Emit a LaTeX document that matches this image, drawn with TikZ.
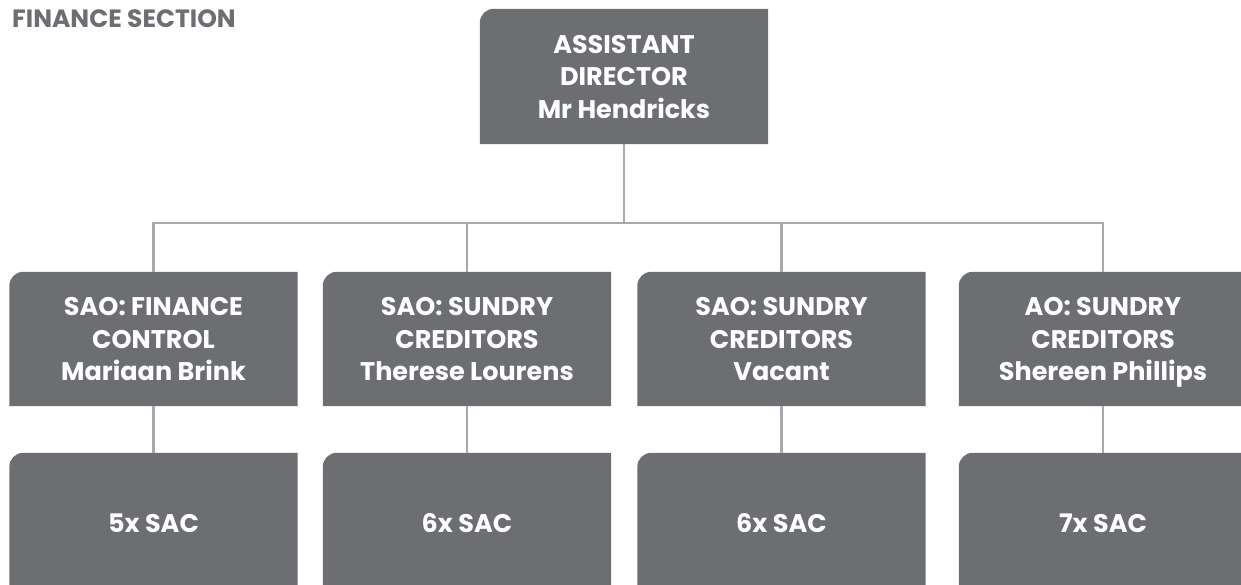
\documentclass[tikz,border=0pt]{standalone}
\usepackage{fontspec}
\setmainfont{Poppins}
\usetikzlibrary{backgrounds}
\definecolor{boxgray}{HTML}{6D6E71}
\definecolor{linegray}{HTML}{A7A9AC}
\tikzset{
  orgbox/.style={minimum width=288pt, minimum height=134pt, inner sep=0pt,
    text depth=0pt, text=white, align=center,
    font=\bfseries\fontsize{25.5}{32.5}\selectfont},
  staffbox/.style={orgbox, text height=24pt},
  conn/.style={draw=linegray, line width=2.6pt},
}
\begin{document}
\begin{tikzpicture}[x=1pt, y=1pt]
\useasboundingbox (0,0) rectangle (1241,-585);
% heading
\node[anchor=base west, inner sep=0pt, text=boxgray,
  font=\bfseries\fontsize{25}{28}\selectfont] (title) at (12,-28) {FINANCE SECTION};
% top position
\node[orgbox, minimum height=135pt] (ad) at (624,-76.5) {ASSISTANT\\DIRECTOR\\Mr Hendricks};
% second row
\node[orgbox] (fc) at (153.5,-339) {SAO: FINANCE\\CONTROL\\Mariaan Brink};
\node[orgbox] (sc1) at (467,-339) {SAO: SUNDRY\\CREDITORS\\Therese Lourens};
\node[orgbox] (sc2) at (781.5,-339) {SAO: SUNDRY\\CREDITORS\\Vacant};
\node[orgbox] (sc3) at (1103,-339) {AO: SUNDRY\\CREDITORS\\Shereen Phillips};
% third row
\node[staffbox] (fcs) at (153.5,-520) {5x SAC};
\node[staffbox] (sc1s) at (467,-520) {6x SAC};
\node[staffbox] (sc2s) at (781.5,-520) {6x SAC};
\node[staffbox] (sc3s) at (1103,-520) {7x SAC};
\begin{scope}[on background layer]
% box fills: only the top left corner is rounded
\foreach \n in {ad,fc,sc1,sc2,sc3,fcs,sc1s,sc2s,sc3s}{
  \fill[boxgray] (\n.south west) -- ([yshift=-14pt]\n.north west)
    arc[start angle=180, end angle=90, radius=14pt]
    -- (\n.north east) -- (\n.south east) -- cycle;
}
% connectors
\coordinate (bus) at (0,-223);
\draw[conn] (ad.south) -- (ad.south |- bus);
\draw[conn] (fc.north) |- (bus -| sc3.north) -- (sc3.north);
\draw[conn] (sc1.north) -- (sc1.north |- bus);
\draw[conn] (sc2.north) -- (sc2.north |- bus);
\draw[conn] (fc.south) -- (fcs.north);
\draw[conn] (sc1.south) -- (sc1s.north);
\draw[conn] (sc2.south) -- (sc2s.north);
\draw[conn] (sc3.south) -- (sc3s.north);
\end{scope}
\end{tikzpicture}
\end{document}
